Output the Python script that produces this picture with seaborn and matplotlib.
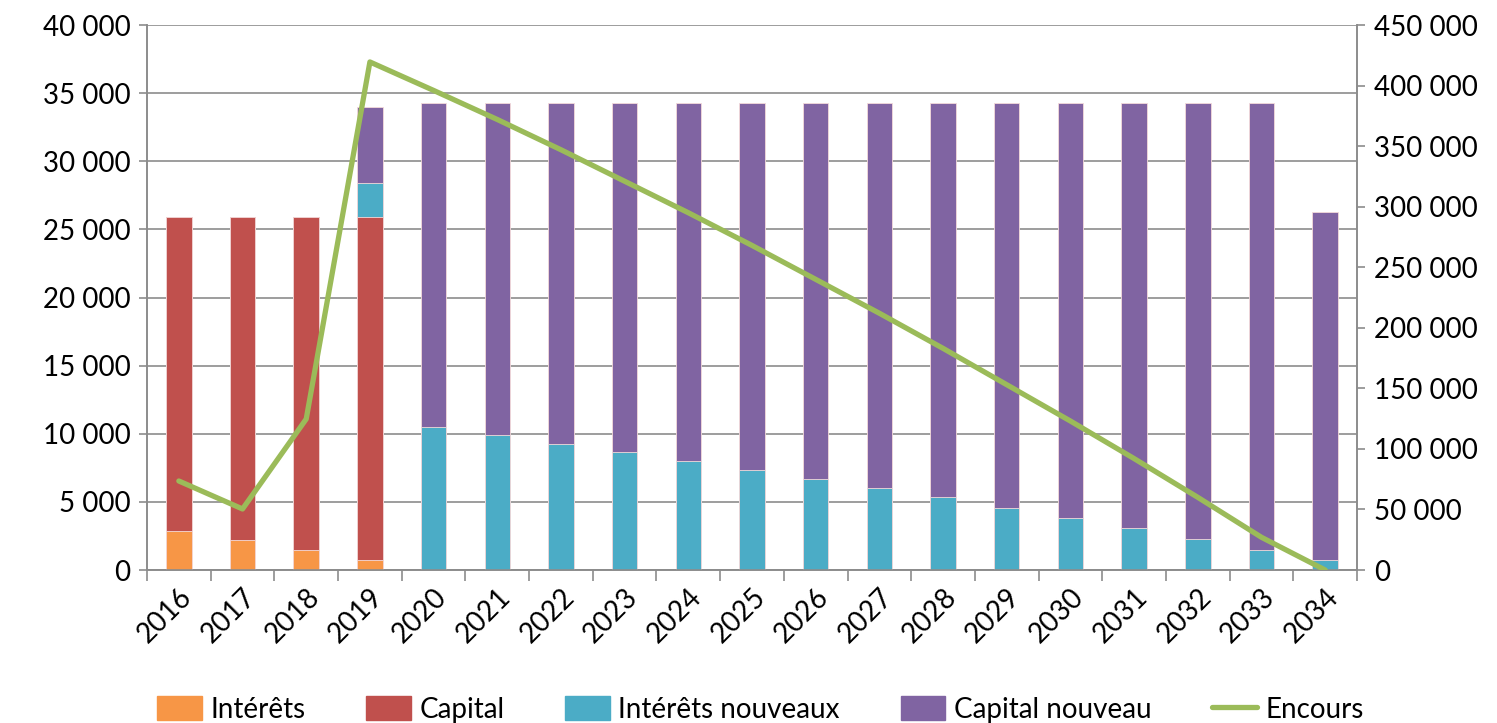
"""Recreate the loan repayment schedule chart (stacked bars + outstanding line)."""

import matplotlib

matplotlib.use("Agg")
import matplotlib.pyplot as plt
import numpy as np
import pandas as pd
import seaborn as sns
from matplotlib.lines import Line2D
from matplotlib.patches import Patch
from matplotlib.ticker import FuncFormatter, FixedLocator

years = [str(y) for y in range(2016, 2035)]
interets = [2870, 2200, 1470, 730] + [0] * 15
capital = [23030, 23700, 24430, 25170] + [0] * 15
interets_nouveaux = [0, 0, 0, 2500, 10500, 9900, 9250, 8650, 8000, 7350,
                     6700, 6000, 5350, 4550, 3850, 3100, 2300, 1500, 700]
capital_nouveau = [0, 0, 0, 5600, 23800, 24400, 25050, 25650, 26300, 26950,
                   27600, 28300, 28950, 29750, 30450, 31200, 32000, 32800, 25600]
encours = [73500, 50400, 124700, 419500, 396000, 372000, 347000, 321000, 295000,
           268000, 240000, 212000, 183000, 153000, 123000, 92000, 60000, 27000, 0]

COLORS = {
    "Intérêts": "#F79646",
    "Capital": "#C0504D",
    "Intérêts nouveaux": "#4BACC6",
    "Capital nouveau": "#8064A2",
    "Encours": "#9BBB59",
}

sns.set_theme(style="white")
plt.rcParams["font.family"] = ["Lato", "DejaVu Sans"]
plt.rcParams["text.color"] = "black"
plt.rcParams["xtick.color"] = "black"
plt.rcParams["ytick.color"] = "black"

df = pd.DataFrame({
    "year": years,
    "Intérêts": interets,
    "Capital": capital,
    "Intérêts nouveaux": interets_nouveaux,
    "Capital nouveau": capital_nouveau,
    "Encours": encours,
})
stack_order = ["Intérêts", "Capital", "Intérêts nouveaux", "Capital nouveau"]
cumul = df[stack_order].cumsum(axis=1)

fig = plt.figure(figsize=(14.97, 7.23), dpi=100)
ax = fig.add_axes([0.0982, 0.2116, 0.8083, 0.7538])

# draw the cumulative totals from the top segment down so each one covers the next
for name in reversed(stack_order):
    sns.barplot(x=df["year"], y=cumul[name], color=COLORS[name], width=0.4,
                saturation=1, edgecolor="#f4dada", linewidth=0.6, ax=ax, zorder=3)

ax.set_ylim(0, 40000)
ax.set_xlim(-0.5, len(years) - 0.5)
ax.set_yticks(np.arange(0, 40001, 5000))
fmt = FuncFormatter(lambda v, _: f"{int(v):,}".replace(",", " "))
ax.yaxis.set_major_formatter(fmt)
ax.set_xlabel("")
ax.set_ylabel("")
ax.grid(axis="y", color="#8c8c8c", linewidth=1.2, zorder=0)
ax.set_axisbelow(True)

ax2 = ax.twinx()
sns.lineplot(x=np.arange(len(years)), y=df["Encours"], color=COLORS["Encours"],
             linewidth=3.8, ax=ax2, zorder=5)
ax2.set_ylim(0, 450000)
ax2.set_yticks(np.arange(0, 450001, 50000))
ax2.yaxis.set_major_formatter(fmt)
ax2.set_xlim(-0.5, len(years) - 0.5)
ax2.set_ylabel("")
ax2.grid(False)

for a in (ax, ax2):
    a.spines["top"].set_visible(False)
    for s in ("left", "right", "bottom"):
        a.spines[s].set_color("#8c8c8c")
        a.spines[s].set_linewidth(1.2)

ax.tick_params(axis="y", labelsize=20, length=6, width=1.2, color="#8c8c8c",
               labelcolor="black", direction="out", left=True, pad=6)
ax2.tick_params(axis="y", labelsize=20, length=6, width=1.2, color="#8c8c8c",
                labelcolor="black", direction="out", right=True, pad=6)
ax.tick_params(axis="x", which="major", length=0, labelsize=20, pad=10,
               labelcolor="black")
ax.xaxis.set_minor_locator(FixedLocator(np.arange(-0.5, len(years), 1.0)))
ax.tick_params(axis="x", which="minor", length=8, width=1.2, color="#8c8c8c",
               direction="out", bottom=True)
plt.setp(ax.get_xticklabels(), rotation=45, ha="right", rotation_mode="anchor")

handles = [Patch(color=COLORS[n], label=n) for n in stack_order]
handles.append(Line2D([0], [0], color=COLORS["Encours"], linewidth=3.8, label="Encours"))
fig.legend(handles=handles, loc="lower center", bbox_to_anchor=(0.508, -0.034),
           ncol=5, frameon=False, fontsize=20, handlelength=1.6, handleheight=0.9,
           columnspacing=2.2, handletextpad=0.3)

fig.savefig("out.png", dpi=100)
